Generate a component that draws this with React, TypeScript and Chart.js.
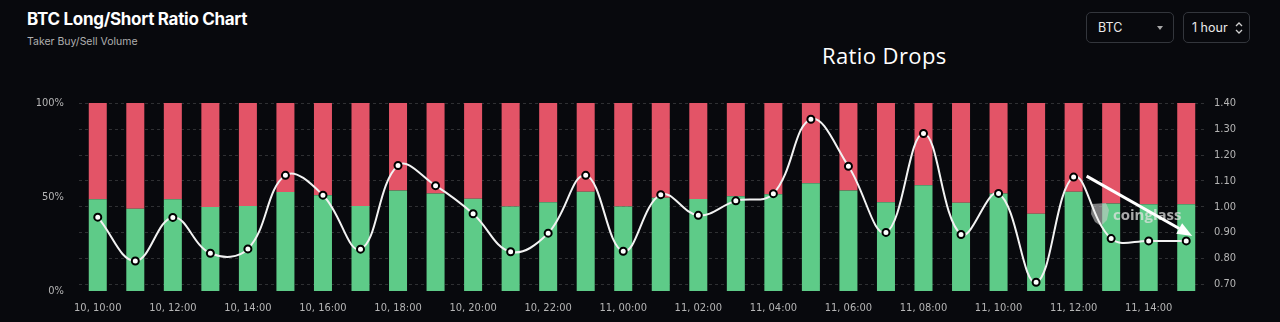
import React, { useEffect, useRef } from "react";
import { Chart, registerables } from "chart.js";
Chart.register(...registerables);

const BG = "#08090d";

const timeLabels = [
  "10, 10:00", "10, 11:00", "10, 12:00", "10, 13:00", "10, 14:00", "10, 15:00",
  "10, 16:00", "10, 17:00", "10, 18:00", "10, 19:00", "10, 20:00", "10, 21:00",
  "10, 22:00", "10, 23:00", "11, 00:00", "11, 01:00", "11, 02:00", "11, 03:00",
  "11, 04:00", "11, 05:00", "11, 06:00", "11, 07:00", "11, 08:00", "11, 09:00",
  "11, 10:00", "11, 11:00", "11, 12:00", "11, 13:00", "11, 14:00", "11, 15:00",
];

const longPct = [
  48.8, 43.8, 48.8, 44.7, 45.2, 52.7, 50.9, 45.2, 53.5, 51.8,
  49.1, 45.0, 47.2, 52.8, 45.0, 49.6, 48.9, 50.4, 51.4, 57.3,
  53.5, 47.2, 56.2, 47.0, 51.8, 41.1, 52.8, 46.5, 46.1, 46.1,
];

const ratio = [
  0.96, 0.79, 0.959, 0.82, 0.837, 1.122, 1.045, 0.836, 1.16, 1.082,
  0.973, 0.826, 0.898, 1.122, 0.828, 1.047, 0.967, 1.023, 1.051, 1.339,
  1.157, 0.901, 1.284, 0.893, 1.052, 0.708, 1.115, 0.877, 0.868, 0.868,
];

const leftTicks = [0, 50, 100];
const rightTicks = [0.7, 0.8, 0.9, 1.0, 1.1, 1.2, 1.3, 1.4];

const GREEN = "#5ecb88";
const RED = "#e35467";
const AXIS_FONT = "'Liberation Sans Narrow', 'DejaVu Sans Condensed', Roboto, sans-serif";

const overlayPlugin = {
  id: "overlay",
  afterDatasetDraw(chart: any, args: any) {
    if (args.index !== 0) return;
    const ctx = chart.ctx;
    ctx.save();
    // watermark logo
    const lx = 1100, ly = 134;
    ctx.fillStyle = "rgba(200,200,200,0.6)";
    ctx.beginPath();
    ctx.moveTo(lx - 8, ly - 10);
    ctx.lineTo(lx + 6, ly - 11);
    ctx.lineTo(lx + 9, ly - 4);
    ctx.lineTo(lx + 7, ly + 6);
    ctx.lineTo(lx + 1, ly + 12);
    ctx.lineTo(lx - 5, ly + 8);
    ctx.lineTo(lx - 9, ly);
    ctx.closePath();
    ctx.fill();
    ctx.fillStyle = "rgba(225,225,225,0.75)";
    ctx.font = "bold 15px 'Open Sans', sans-serif";
    ctx.textBaseline = "alphabetic";
    ctx.fillText("coinglass", 1113, 140);
    ctx.restore();
  },
  afterDatasetsDraw(chart: any) {
    const meta = chart.getDatasetMeta(2);
    const p0 = meta.data[26];
    const p1 = meta.data[29];
    if (!p0 || !p1) return;
    const ctx = chart.ctx;
    const sx = p0.x + 13, sy = p0.y - 1;
    const ex = p1.x + 6, ey = p1.y - 5;
    const ang = Math.atan2(ey - sy, ex - sx);
    const hl = 15, hw = 6;
    const bx = ex - hl * Math.cos(ang), by = ey - hl * Math.sin(ang);
    ctx.save();
    ctx.strokeStyle = "#ffffff";
    ctx.fillStyle = "#ffffff";
    ctx.lineWidth = 3;
    ctx.beginPath();
    ctx.moveTo(sx, sy);
    ctx.lineTo(bx, by);
    ctx.stroke();
    ctx.beginPath();
    ctx.moveTo(ex, ey);
    ctx.lineTo(bx + hw * Math.sin(ang), by - hw * Math.cos(ang));
    ctx.lineTo(bx - hw * Math.sin(ang), by + hw * Math.cos(ang));
    ctx.closePath();
    ctx.fill();
    ctx.restore();
  },
};

export default function App() {
  const ref = useRef<HTMLCanvasElement>(null);
  useEffect(() => {
    document.body.style.margin = "0";
    document.body.style.background = BG;
    const shortPct = longPct.map((v) => +(100 - v).toFixed(1));
    const chart = new Chart(ref.current as HTMLCanvasElement, {
      type: "bar",
      data: {
        labels: timeLabels,
        datasets: [
          {
            type: "bar",
            label: "Long",
            data: longPct,
            backgroundColor: GREEN,
            yAxisID: "y",
            barPercentage: 0.48,
            categoryPercentage: 1,
            order: 1,
          },
          {
            type: "bar",
            label: "Short",
            data: shortPct,
            backgroundColor: RED,
            yAxisID: "y",
            barPercentage: 0.48,
            categoryPercentage: 1,
            order: 1,
          },
          {
            type: "line",
            label: "Long/Short Ratio",
            data: ratio,
            yAxisID: "y1",
            borderColor: "#f2f2f2",
            borderWidth: 2,
            tension: 0.4,
            pointRadius: 3.5,
            pointBackgroundColor: "#ffffff",
            pointBorderColor: "#000000",
            pointBorderWidth: 2,
            order: 0,
          } as any,
        ],
      },
      options: {
        animation: false,
        responsive: false,
        layout: { padding: { top: 23, left: 0, right: 0, bottom: 0 } },
        plugins: {
          legend: { display: false },
          tooltip: { enabled: false },
        },
        scales: {
          x: {
            stacked: true,
            grid: { display: false },
            border: { display: false },
            ticks: {
              color: "#b5b5b5",
              font: { family: AXIS_FONT, size: 11 },
              autoSkip: false,
              maxRotation: 0,
              padding: 3,
              callback: (_v: any, i: number) => (i % 2 === 0 ? timeLabels[i] : ""),
            },
            afterFit: (s: any) => {
              s.height = 31;
            },
          },
          y: {
            position: "left",
            stacked: true,
            min: 0,
            max: 100,
            grid: { display: false },
            border: { display: false },
            afterBuildTicks: (s: any) => {
              s.ticks = leftTicks.map((v) => ({ value: v }));
            },
            ticks: {
              color: "#b5b5b5",
              font: { family: AXIS_FONT, size: 11 },
              padding: 7,
              callback: (v: any) => v + "%",
            },
            afterFit: (s: any) => {
              s.width = 79;
            },
          },
          y1: {
            position: "right",
            min: 0.674,
            max: 1.402,
            grid: { color: "rgba(255,255,255,0.16)", drawTicks: false },
            border: { display: false, dash: [3, 3] },
            afterBuildTicks: (s: any) => {
              s.ticks = rightTicks.map((v) => ({ value: v }));
            },
            ticks: {
              color: "#b5b5b5",
              font: { family: AXIS_FONT, size: 11 },
              padding: 9,
              callback: (v: any) => Number(v).toFixed(2),
            },
            afterFit: (s: any) => {
              s.width = 75;
            },
          },
        },
      } as any,
      plugins: [overlayPlugin],
    });
    return () => chart.destroy();
  }, []);

  const box: React.CSSProperties = {
    position: "absolute",
    top: 12,
    height: 31,
    boxSizing: "border-box",
    border: "1px solid #33363c",
    borderRadius: 5,
    display: "flex",
    alignItems: "center",
    color: "#eaeaea",
    fontSize: 12.5,
    fontFamily: "Inter, sans-serif",
  };

  return (
    <div
      style={{
        position: "relative",
        width: 1280,
        height: 322,
        background: BG,
        overflow: "hidden",
        fontFamily: "Inter, sans-serif",
      }}
    >
      <div
        style={{
          position: "absolute",
          left: 27,
          top: 9,
          fontSize: 17,
          lineHeight: "20px",
          fontWeight: 700,
          color: "#ffffff",
          letterSpacing: -0.3,
          whiteSpace: "nowrap",
        }}
      >
        BTC Long/Short Ratio Chart
      </div>
      <div
        style={{
          position: "absolute",
          left: 27,
          top: 35,
          fontSize: 10.5,
          lineHeight: "13px",
          color: "#b0b0b0",
          whiteSpace: "nowrap",
        }}
      >
        Taker Buy/Sell Volume
      </div>
      <div
        style={{
          position: "absolute",
          left: 822,
          top: 40,
          fontSize: 22,
          lineHeight: "30px",
          letterSpacing: 0.4,
          color: "#ffffff",
          fontFamily: "'Open Sans', sans-serif",
          whiteSpace: "nowrap",
        }}
      >
        Ratio Drops
      </div>
      <div style={{ ...box, left: 1086, width: 88, paddingLeft: 11 }}>
        BTC
        <div
          style={{
            position: "absolute",
            left: 70,
            top: 13,
            width: 0,
            height: 0,
            borderLeft: "3.5px solid transparent",
            borderRight: "3.5px solid transparent",
            borderTop: "4px solid #a8a8a8",
          }}
        />
      </div>
      <div style={{ ...box, left: 1183, width: 67, paddingLeft: 8 }}>
        1 hour
        <svg
          width="8"
          height="12"
          viewBox="0 0 8 12"
          style={{ position: "absolute", left: 51, top: 9 }}
        >
          <polyline points="1,4 4,1 7,4" fill="none" stroke="#cfcfcf" strokeWidth="1.3" />
          <polyline points="1,8 4,11 7,8" fill="none" stroke="#cfcfcf" strokeWidth="1.3" />
        </svg>
      </div>
      <canvas
        ref={ref}
        width={1280}
        height={242}
        style={{ position: "absolute", left: 0, top: 80, width: 1280, height: 242 }}
      />
    </div>
  );
}
